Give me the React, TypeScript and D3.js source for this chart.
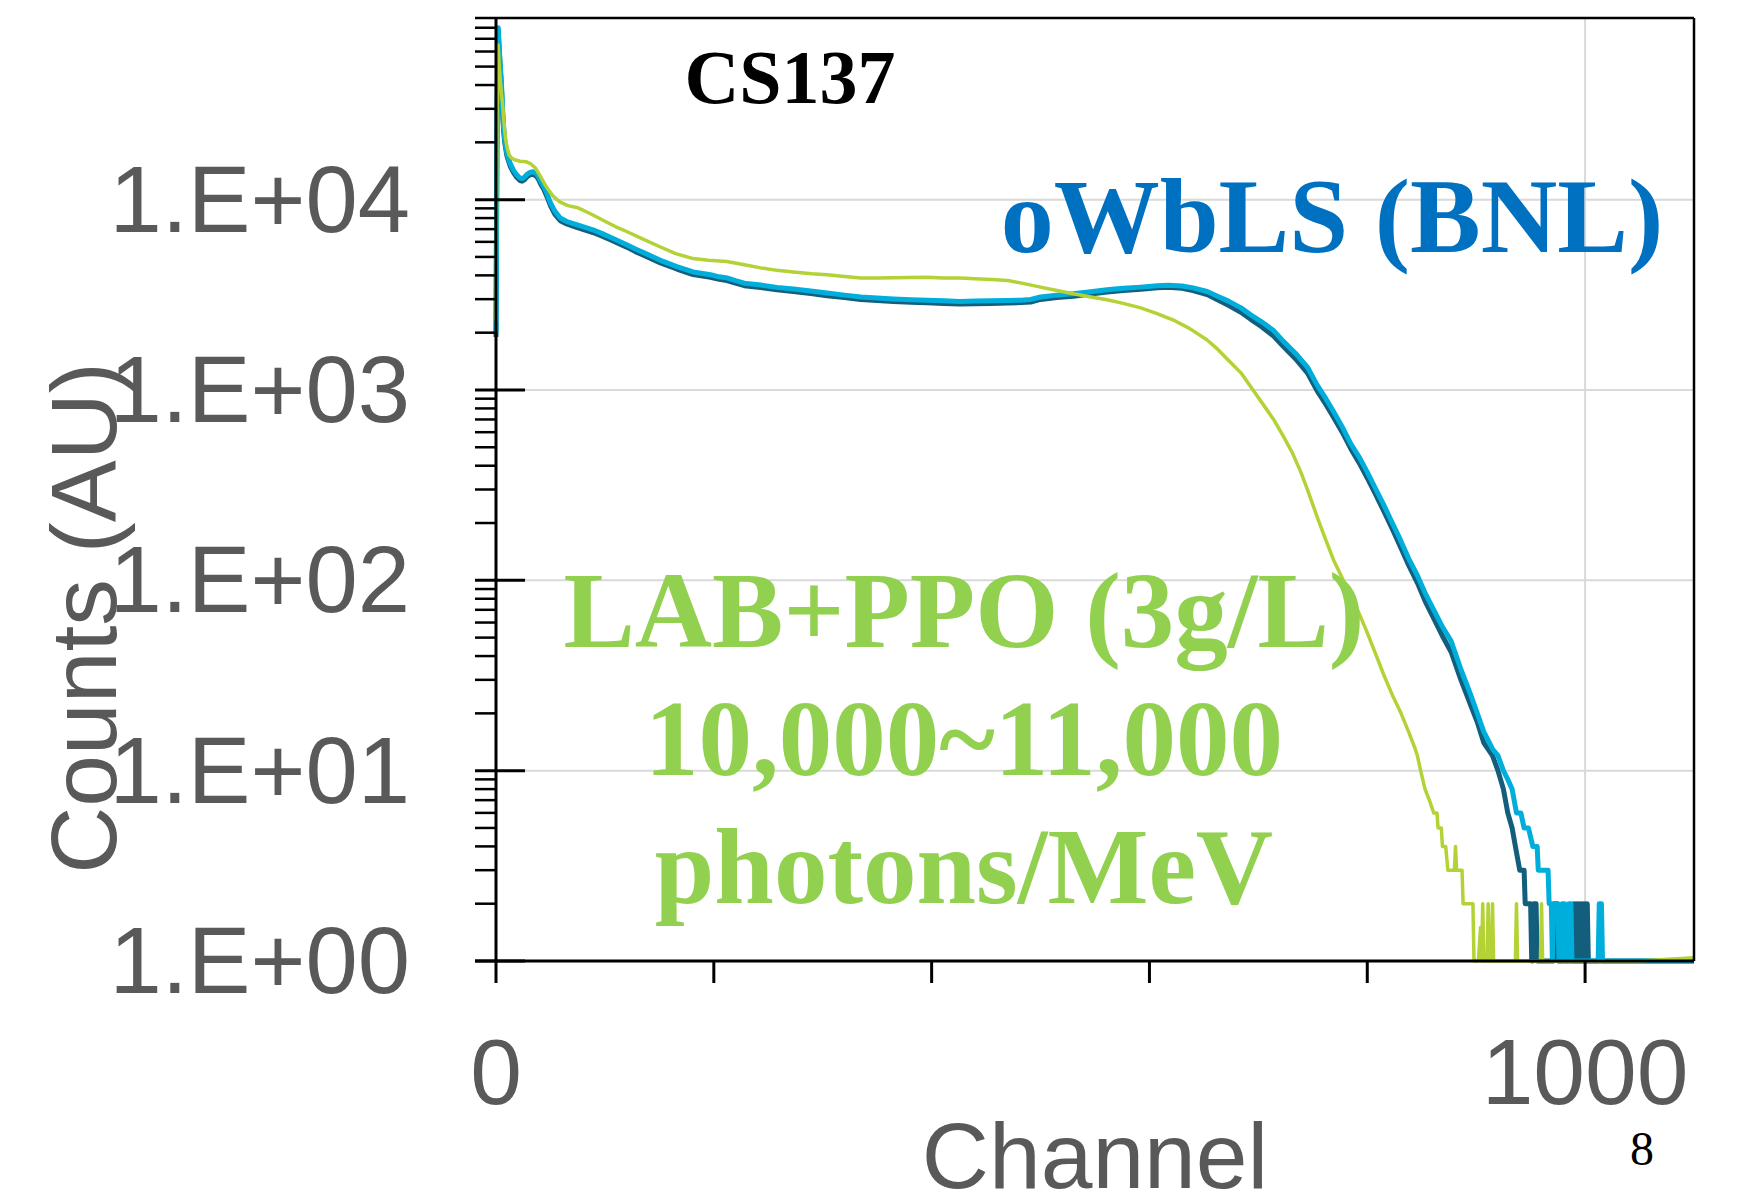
import React from 'react';
import * as d3 from 'd3';

type Pt = [number, number];

// ---- Axis ticks / labels ----
const X_MINOR_TICKS = [0, 200, 400, 600, 800, 1000];
const X_LABELS = [0, 1000];
const X_GRID = [1000];
const Y_DECADES = [1, 10, 100, 1000, 10000];
const Y_LABELS = ['1.E+00', '1.E+01', '1.E+02', '1.E+03', '1.E+04'];
const Y_MAX = 90000;
const X_MAX = 1100;

// ---- Series (channel, counts) ----
const OWBLS_CYAN: Pt[] = [
  [0, 2000], [1, 30000], [2, 80000], [3, 62000], [4, 50000], [5, 41000], [6, 30000], [7, 24000], [8, 20600],
  [10, 17500], [13, 15500], [16, 14300], [19, 13500], [22, 13000], [24, 12900], [26, 13100], [28, 13500],
  [31, 13900], [34, 14000], [37, 13700], [39, 13200], [41, 12500], [44, 11700], [47, 10700], [50, 9600],
  [54, 8700], [59, 8000], [65, 7670], [74, 7380], [89, 6930], [97, 6650], [105, 6340], [113, 6050], [120, 5800],
  [128, 5500], [136, 5250], [151, 4800], [166, 4450], [181, 4170], [197, 4030], [205, 3930], [212, 3880],
  [220, 3750], [228, 3640], [243, 3560], [258, 3460], [273, 3390], [289, 3310], [304, 3230], [320, 3150],
  [335, 3080], [350, 3040], [365, 3010], [381, 2980], [396, 2960], [411, 2940], [426, 2920], [440, 2930],
  [454, 2940], [470, 2950], [482, 2960], [491, 2990], [500, 3080], [515, 3150], [530, 3200], [546, 3280],
  [561, 3360], [576, 3420], [592, 3470], [607, 3530], [617, 3550], [630, 3520], [640, 3440], [653, 3290],
  [662, 3120], [673, 2920], [684, 2700], [693, 2480], [703, 2280], [714, 2050], [723, 1800], [734, 1560],
  [745, 1320], [754, 1060], [762, 900], [769, 770], [777, 640], [785, 520], [793, 440], [800, 370], [808, 300],
  [815, 250], [823, 200], [830, 165], [838, 130], [846, 106], [853, 86], [861, 70], [869, 57], [877, 48],
  [886, 34], [895, 25], [901, 20], [907, 16], [915, 13], [920, 12], [925, 10], [929, 9], [933, 8], [937, 6],
  [941, 6], [944, 5], [948, 5], [952, 4], [956, 4], [957, 3], [966, 3], [967, 2], [969, 2], [970, 1], [971, 2],
  [975, 2], [976, 1], [978, 1], [979, 2], [981, 2], [982, 1], [984, 1], [985, 2], [987, 2], [988, 1], [1012, 1],
  [1013, 2], [1015, 2], [1016, 1], [1100, 1],
];

const OWBLS_DARK: Pt[] = [
  [0, 1900], [1, 28000], [2, 78000], [3, 60000], [4, 48000], [5, 39000], [6, 29000], [7, 23000], [8, 20000],
  [10, 17000], [13, 15000], [16, 13900], [19, 13100], [22, 12600], [24, 12500], [26, 12700], [28, 13100],
  [31, 13500], [34, 13600], [37, 13300], [39, 12800], [41, 12100], [44, 11300], [47, 10300], [50, 9300],
  [54, 8400], [59, 7750], [65, 7450], [74, 7150], [89, 6720], [97, 6450], [105, 6150], [113, 5870], [120, 5630],
  [128, 5330], [136, 5090], [151, 4650], [166, 4320], [181, 4040], [197, 3910], [205, 3810], [212, 3760],
  [220, 3640], [228, 3530], [243, 3450], [258, 3360], [273, 3290], [289, 3210], [304, 3130], [320, 3060],
  [335, 2990], [350, 2950], [365, 2920], [381, 2890], [396, 2870], [411, 2850], [426, 2830], [440, 2840],
  [454, 2850], [470, 2860], [482, 2880], [491, 2900], [500, 2990], [515, 3060], [530, 3110], [546, 3190],
  [561, 3270], [576, 3330], [592, 3380], [607, 3440], [617, 3460], [630, 3420], [640, 3330], [653, 3170],
  [662, 2990], [673, 2780], [684, 2560], [693, 2350], [703, 2150], [714, 1920], [723, 1690], [734, 1460],
  [745, 1230], [754, 990], [762, 840], [769, 720], [777, 600], [785, 490], [793, 410], [800, 345], [808, 280],
  [815, 232], [823, 186], [830, 152], [838, 120], [846, 97], [853, 78], [861, 63], [869, 51], [877, 42],
  [886, 30], [895, 22], [901, 18], [907, 14], [915, 12], [920, 10], [925, 8], [929, 6], [933, 5], [936, 4],
  [940, 3], [944, 3], [945, 2], [950, 2], [951, 1], [952, 1], [953, 2], [955, 2], [956, 1], [971, 1], [972, 2],
  [974, 2], [975, 1], [989, 1], [990, 2], [991, 1], [992, 2], [993, 1], [994, 2], [995, 1], [996, 2], [997, 1],
  [998, 2], [999, 1], [1000, 2], [1001, 1], [1002, 2], [1003, 1], [1100, 1],
];

const LAB_PPO: Pt[] = [
  [0, 2300], [1, 28000], [2, 65000], [3, 50000], [4, 42000], [5, 36000], [6, 32000], [7, 27000], [8, 23000],
  [9, 20500], [10, 19000], [12, 17200], [14, 16600], [17, 16200], [22, 15900], [28, 15800], [32, 15400],
  [36, 14700], [40, 13500], [44, 12300], [47, 11500], [52, 10500], [56, 10000], [59, 9700], [66, 9300],
  [74, 9100], [80, 8800], [89, 8300], [100, 7700], [110, 7200], [120, 6800], [135, 6200], [151, 5640],
  [165, 5200], [181, 4900], [195, 4800], [212, 4730], [228, 4550], [243, 4380], [258, 4250], [273, 4170],
  [290, 4080], [304, 4030], [320, 3950], [335, 3880], [350, 3880], [365, 3890], [380, 3900], [396, 3910],
  [410, 3880], [426, 3880], [440, 3840], [455, 3800], [470, 3760], [485, 3620], [500, 3470], [515, 3330],
  [530, 3200], [545, 3090], [561, 2980], [576, 2850], [592, 2700], [607, 2520], [622, 2330], [637, 2100],
  [653, 1830], [662, 1650], [670, 1480], [684, 1230], [693, 1040], [705, 830], [714, 700], [723, 570],
  [731, 470], [739, 370], [746, 290], [754, 215], [761, 168], [769, 128], [778, 100], [785, 84], [793, 66],
  [800, 53], [807, 42], [815, 32], [823, 25], [831, 20], [838, 16], [844, 13], [846, 12], [849, 10], [853, 8],
  [857, 7], [861, 6], [864, 6], [865, 5], [868, 5], [869, 4], [872, 4], [874, 3], [880, 3], [881, 4], [882, 3],
  [887, 3], [888, 2], [897, 2], [898, 1], [902, 1], [904, 1.5], [905, 1], [906, 2], [907, 1], [910, 1],
  [911, 2], [912, 1], [914, 1], [915, 2], [916, 1], [936, 1], [937, 2], [938, 1], [959, 1], [960, 2], [961, 1],
  [1049, 1], [1100, 1.04],
];

const SANS = '"Liberation Sans", Arial, sans-serif';
const SERIF = '"Liberation Serif", "Times New Roman", serif';
const GRAY_TEXT = '#595959';

export default function App() {
  const left = 496;
  const right = 1694;
  const bottom = 961;
  const top = 18;

  const x = d3.scaleLinear().domain([0, X_MAX]).range([left, right]);
  const y = d3.scaleLog().domain([1, Y_MAX]).range([bottom, top]);
  const line = d3
    .line<Pt>()
    .x((d) => x(d[0]))
    .y((d) => y(d[1]));

  const minorY: number[] = [];
  Y_DECADES.forEach((dec) => {
    for (let k = 2; k <= 9; k++) {
      const v = k * dec;
      if (v <= Y_MAX * 1.0001) minorY.push(v);
    }
  });

  return (
    <svg
      width={1747}
      height={1200}
      style={{ position: 'absolute', left: 0, top: 0, background: '#fff' }}
    >
      <rect x={0} y={0} width={1747} height={1200} fill="#fff" />
      {/* gridlines */}
      {Y_DECADES.slice(1).map((v) => (
        <line key={'gy' + v} x1={left} x2={right} y1={y(v)} y2={y(v)} stroke="#D9D9D9" strokeWidth={2} />
      ))}
      {X_GRID.map((v) => (
        <line key={'gx' + v} x1={x(v)} x2={x(v)} y1={top} y2={bottom} stroke="#D9D9D9" strokeWidth={2} />
      ))}

      {/* series */}
      <path d={line(OWBLS_DARK) || ''} fill="none" stroke="#135E7C" strokeWidth={5} strokeLinejoin="round" />
      <path d={line(OWBLS_CYAN) || ''} fill="none" stroke="#00AEDB" strokeWidth={5} strokeLinejoin="round" />
      <path d={line(LAB_PPO) || ''} fill="none" stroke="#B3D235" strokeWidth={3.5} strokeLinejoin="round" />

      {/* frame */}
      <line x1={left} x2={right} y1={top} y2={top} stroke="#000" strokeWidth={2.5} />
      <line x1={right} x2={right} y1={top} y2={bottom} stroke="#000" strokeWidth={2.5} />
      <line x1={left} x2={left} y1={top} y2={bottom + 1.5} stroke="#000" strokeWidth={3} />
      <line x1={left - 21} x2={right} y1={bottom} y2={bottom} stroke="#000" strokeWidth={3} />

      {/* y ticks */}
      {minorY.map((v) => (
        <line key={'my' + v} x1={left - 21} x2={left} y1={y(v)} y2={y(v)} stroke="#000" strokeWidth={2.5} />
      ))}
      {Y_DECADES.map((v) => (
        <line key={'My' + v} x1={left - 21} x2={left + 29} y1={y(v)} y2={y(v)} stroke="#000" strokeWidth={3} />
      ))}
      {/* x ticks */}
      {X_MINOR_TICKS.map((v) => (
        <line key={'tx' + v} x1={x(v)} x2={x(v)} y1={bottom} y2={bottom + 22} stroke="#000" strokeWidth={3} />
      ))}

      {/* y tick labels */}
      {Y_DECADES.map((v, i) => (
        <text
          key={'ly' + v}
          x={410}
          y={y(v) + 32}
          textAnchor="end"
          fontFamily={SANS}
          fontSize={94}
          fill={GRAY_TEXT}
        >
          {Y_LABELS[i]}
        </text>
      ))}
      {/* x tick labels */}
      {X_LABELS.map((v) => (
        <text key={'lx' + v} x={x(v)} y={1104} textAnchor="middle" fontFamily={SANS} fontSize={93} fill={GRAY_TEXT}>
          {v}
        </text>
      ))}

      {/* axis titles */}
      <text x={(left + right) / 2} y={1188} textAnchor="middle" fontFamily={SANS} fontSize={93} fill={GRAY_TEXT}>
        Channel
      </text>
      <text
        transform="translate(116,618) rotate(-90)"
        textAnchor="middle"
        fontFamily={SANS}
        fontSize={93}
        fill={GRAY_TEXT}
      >
        Counts (AU)
      </text>

      {/* annotations */}
      <text x={790} y={103} textAnchor="middle" fontFamily={SERIF} fontWeight="bold" fontSize={76} fill="#000">
        CS137
      </text>
      <text x={1332} y={252} textAnchor="middle" fontFamily={SERIF} fontWeight="bold" fontSize={106} fill="#0070C0">
        oWbLS (BNL)
      </text>
      <text x={964} y={647} textAnchor="middle" fontFamily={SERIF} fontWeight="bold" fontSize={107} fill="#92D050">
        LAB+PPO (3g/L)
      </text>
      <text x={964} y={775} textAnchor="middle" fontFamily={SERIF} fontWeight="bold" fontSize={107} fill="#92D050">
        10,000~11,000
      </text>
      <text x={964} y={903} textAnchor="middle" fontFamily={SERIF} fontWeight="bold" fontSize={107} fill="#92D050">
        photons/MeV
      </text>
      <text x={1642} y={1165} textAnchor="middle" fontFamily={SERIF} fontSize={48} fill="#000">
        8
      </text>
    </svg>
  );
}
